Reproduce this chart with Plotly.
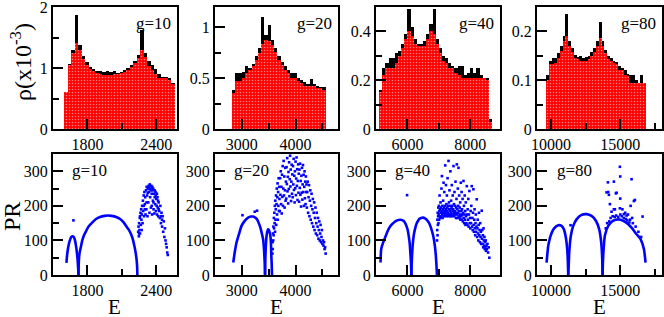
import plotly.graph_objects as go

FONT = "Liberation Serif"
BLUE = "#0000ff"

# ---------------- top row: density of states histograms ----------------
g10_hist_E = [1615, 1645, 1675, 1705, 1735, 1765, 1795, 1825, 1855, 1885, 1915, 1945, 1975, 2005, 2035, 2065,
              2095, 2125, 2155, 2185, 2215, 2245, 2275, 2305, 2335, 2365, 2395, 2425, 2455, 2485, 2515, 2545]
g10_hist_red = [0.6, 1.05, 1.25, 1.41, 1.3, 1.15, 1.05, 0.98, 0.95, 0.92, 0.9, 0.89, 0.89, 0.89, 0.9, 0.9,
                0.91, 0.93, 0.96, 1.02, 1.08, 1.17, 1.3, 1.18, 1.03, 0.96, 0.9, 0.84, 0.84, 0.84, 0.8, 0.73]
g10_hist_black = [0.6, 1.07, 1.3, 1.87, 1.38, 1.2, 1.1, 1.02, 0.98, 0.95, 0.95, 0.93, 0.95, 0.93, 0.95, 0.92,
                  0.93, 0.97, 1.0, 1.05, 1.12, 1.22, 1.63, 1.25, 1.12, 1.05, 0.98, 0.9, 0.85, 0.85, 0.84, 0.75]

g20_hist_E = [2850, 2910, 2970, 3030, 3090, 3150, 3210, 3270, 3330, 3390, 3450, 3510, 3570, 3630, 3690,
              3750, 3810, 3870, 3930, 3990, 4050, 4110, 4170, 4230, 4290, 4350, 4410, 4470, 4530]
g20_hist_red = [0.35, 0.47, 0.47, 0.5, 0.55, 0.58, 0.62, 0.68, 0.75, 0.84, 0.88, 0.87, 0.83, 0.76, 0.68,
                0.63, 0.58, 0.55, 0.5, 0.5, 0.47, 0.45, 0.42, 0.42, 0.42, 0.42, 0.4, 0.4, 0.38]
g20_hist_black = [0.38, 0.55, 0.55, 0.56, 0.62, 0.6, 0.64, 0.72, 0.8, 1.1, 0.92, 1.02, 0.88, 0.8, 0.72,
                  0.66, 0.62, 0.58, 0.55, 0.55, 0.5, 0.48, 0.46, 0.44, 0.49, 0.44, 0.42, 0.41, 0.41]

g40_hist_E = [5150, 5250, 5350, 5450, 5550, 5650, 5750, 5850, 5950, 6050, 6150, 6250, 6350, 6450, 6550, 6650,
              6750, 6850, 6950, 7050, 7150, 7250, 7350, 7450, 7550, 7650, 7750, 7850, 7950, 8050, 8150, 8250,
              8350, 8450, 8550, 8650]
g40_hist_red = [0.15, 0.22, 0.25, 0.25, 0.25, 0.27, 0.3, 0.33, 0.37, 0.4, 0.38, 0.35, 0.34, 0.34, 0.34, 0.37,
                0.4, 0.39, 0.35, 0.31, 0.28, 0.27, 0.25, 0.25, 0.23, 0.22, 0.21, 0.21, 0.21, 0.21, 0.21, 0.21,
                0.21, 0.21, 0.2, 0.03]
g40_hist_black = [0.16, 0.25, 0.27, 0.29, 0.29, 0.31, 0.32, 0.35, 0.39, 0.49, 0.42, 0.37, 0.35, 0.35, 0.36, 0.39,
                  0.43, 0.49, 0.37, 0.33, 0.3, 0.29, 0.27, 0.26, 0.25, 0.26, 0.26, 0.22, 0.23, 0.25, 0.23, 0.25,
                  0.22, 0.21, 0.21, 0.04]

g80_hist_E = [9750, 9950, 10150, 10350, 10550, 10750, 10950, 11150, 11350, 11550, 11750, 11950, 12150, 12350,
              12550, 12750, 12950, 13150, 13350, 13550, 13750, 13950, 14150, 14350, 14550, 14750, 14950, 15150,
              15350, 15550, 15750, 15950, 16150, 16350, 16550, 16750]
g80_hist_red = [0.1, 0.133, 0.133, 0.135, 0.146, 0.16, 0.18, 0.19, 0.17, 0.157, 0.145, 0.143, 0.14, 0.14,
                0.14, 0.143, 0.15, 0.158, 0.17, 0.186, 0.17, 0.155, 0.143, 0.14, 0.135, 0.133, 0.12, 0.12,
                0.11, 0.109, 0.095, 0.095, 0.095, 0.095, 0.095, 0.095]
g80_hist_black = [0.11, 0.14, 0.145, 0.145, 0.155, 0.17, 0.19, 0.236, 0.18, 0.165, 0.152, 0.148, 0.15, 0.145,
                  0.148, 0.15, 0.158, 0.165, 0.18, 0.219, 0.18, 0.162, 0.15, 0.145, 0.14, 0.138, 0.13, 0.125,
                  0.12, 0.112, 0.11, 0.11, 0.1, 0.095, 0.11, 0.095]

# ---------------- bottom row: participation ratio ----------------
g10_arc1_E = [1617, 1622, 1630, 1640, 1650, 1660, 1670, 1680, 1690, 1700, 1708, 1714, 1718, 1721, 1722]
g10_arc1_PR = [35, 55, 75, 92, 103, 110, 112, 110, 102, 85, 65, 45, 25, 8, 0]
g10_arc2_E = [1722, 1724, 1727, 1732, 1742, 1755, 1770, 1785, 1810, 1843, 1875, 1910, 1950, 1980, 2010, 2050,
              2085, 2115, 2140, 2162, 2180, 2195, 2206, 2216, 2224, 2230, 2233, 2235]
g10_arc2_PR = [0, 30, 50, 65, 80, 100, 115, 125, 140, 152, 162, 168, 171, 172, 171, 168,
               162, 152, 140, 130, 118, 104, 88, 72, 55, 38, 22, 0]
g10_out_E = [1678]
g10_out_PR = [158]
g10_cloud_E = [2242, 2245, 2248, 2250, 2253, 2256, 2258, 2262, 2265, 2268, 2270, 2273, 2276, 2280, 2283, 2286,
               2290, 2293, 2296, 2300, 2303, 2306, 2310, 2313, 2316, 2320, 2323, 2326, 2330, 2333, 2336, 2340,
               2343, 2346, 2350, 2353, 2356, 2360, 2363, 2366, 2370, 2373, 2376, 2380, 2383, 2386, 2390, 2393,
               2396, 2400, 2403, 2406, 2410, 2413, 2416, 2420, 2425, 2430, 2435, 2440, 2445, 2450, 2455, 2460,
               2465, 2470, 2475, 2480, 2485, 2490, 2495, 2500,
               2335, 2345, 2355, 2365, 2325, 2385, 2395, 2300, 2290, 2315, 2360, 2375, 2405, 2415, 2420, 2450,
               2440, 2258, 2250, 2272]
g10_cloud_PR = [125, 140, 112, 150, 130, 165, 120, 180, 145, 190, 160, 175, 200, 150, 215, 185,
                230, 170, 240, 205, 225, 175, 245, 190, 255, 230, 170, 250, 210, 258, 240, 180,
                262, 225, 250, 195, 258, 235, 175, 245, 215, 250, 190, 235, 178, 225, 205, 240,
                185, 220, 200, 175, 225, 195, 170, 210, 185, 165, 200, 150, 180, 140, 170, 125,
                155, 110, 135, 100, 90, 80, 65, 58,
                252, 248, 245, 255, 238, 245, 230, 190, 200, 210, 200, 210, 235, 215, 190, 160,
                170, 170, 120, 130]

g20_arc1_E = [2840, 2870, 2901, 2950, 2994, 3050, 3117, 3170, 3209, 3250, 3283, 3315, 3345, 3372, 3395,
              3410, 3419, 3427, 3432]
g20_arc1_PR = [36, 68, 94, 120, 142, 156, 166, 169, 169, 166, 161, 150, 137, 120, 104, 80, 56, 30, 0]
g20_arc2_E = [3432, 3437, 3444, 3455, 3469, 3485, 3500, 3515, 3531, 3542, 3549, 3556, 3561]
g20_arc2_PR = [0, 45, 75, 105, 123, 132, 131, 125, 113, 90, 56, 30, 0]
g20_out_E = [3012, 3240, 3283]
g20_out_PR = [173, 183, 186]
g20_cloud_E = [3568, 3572, 3575, 3580, 3584, 3588, 3592, 3596, 3600, 3605, 3610, 3614, 3618, 3622, 3627, 3631,
               3636, 3640, 3645, 3650, 3655, 3660, 3665, 3670, 3675, 3680, 3685, 3690, 3695, 3700,
               3706, 3712, 3718, 3724, 3730, 3736, 3742, 3748, 3754, 3760, 3766, 3772, 3778, 3784, 3790, 3796,
               3802, 3808, 3814, 3820,
               3826, 3832, 3838, 3844, 3850, 3856, 3862, 3868, 3874, 3880, 3886, 3892, 3898, 3904, 3910, 3916,
               3922, 3928, 3934, 3940,
               3946, 3952, 3958, 3964, 3970, 3976, 3982, 3988, 3994, 4000, 4006, 4012, 4018, 4024, 4030, 4036,
               4042, 4048, 4054, 4060,
               4066, 4072, 4078, 4084, 4090, 4096, 4102, 4108, 4114, 4120, 4126, 4132, 4138, 4144, 4150, 4156,
               4162, 4168, 4174, 4180,
               4186, 4192, 4198, 4204,
               4210, 4218, 4226, 4234, 4242, 4250, 4258, 4266, 4274, 4282, 4290, 4298, 4306, 4314, 4322, 4330,
               4338, 4346, 4354, 4362, 4370, 4378, 4386, 4394, 4402, 4410, 4418, 4426, 4434, 4442, 4450, 4458,
               4466, 4474, 4482, 4490, 4500, 4510, 4520, 4530, 4540, 4550, 4560]
g20_cloud_PR = [62, 95, 75, 120, 100, 140, 115, 165, 135, 180, 150, 200, 125, 215, 160, 190,
                230, 145, 205, 250, 175, 225, 265, 160, 240, 200, 280, 185, 255, 220,
                185, 280, 232, 300, 205, 255, 178, 290, 226, 315, 200, 250, 330, 230, 285, 195,
                245, 310, 215, 270,
                221, 312, 263, 338, 242, 284, 207, 298, 249, 326, 228, 277, 345, 256, 305, 214,
                270, 319, 235, 291,
                225, 315, 262, 336, 246, 287, 210, 300, 251, 328, 231, 279, 340, 258, 306, 217,
                272, 320, 238, 293,
                212, 305, 252, 322, 232, 272, 198, 287, 238, 310, 218, 262, 318, 240, 290, 200,
                255, 300, 222, 270,
                205, 285, 240, 262,
                195, 240, 270, 180, 225, 260, 170, 215, 245, 160, 200, 235, 150, 190, 220, 140,
                180, 210, 130, 165, 195, 120, 150, 180, 115, 140, 165, 105, 130, 155, 100, 120,
                145, 95, 110, 130, 90, 100, 85, 95, 75, 80, 62]

g40_arc1_E = [5144, 5166, 5220, 5271, 5376, 5450, 5514, 5600, 5672, 5778, 5884, 5930, 5968, 6010, 6042,
              6075, 6095, 6115, 6127]
g40_arc1_PR = [36, 75, 92, 104, 128, 140, 147, 154, 158, 160, 156, 150, 142, 130, 113, 90, 63, 35, 0]
g40_arc2_E = [6127, 6135, 6148, 6170, 6201, 6240, 6285, 6340, 6391, 6440, 6497, 6560, 6624, 6680, 6729,
              6780, 6835, 6870, 6898, 6920, 6941]
g40_arc2_PR = [0, 30, 56, 88, 114, 132, 147, 157, 163, 165, 166, 164, 159, 152, 142, 128, 108, 88, 65, 38, 0]
g40_out_E = [5990]
g40_out_PR = [231]
g40_cloud_E = [6945, 6950, 6955, 6960, 6965, 6970, 6978, 6985, 6990, 6998, 7005, 7010, 7018, 7025, 7032, 7040,
               7048, 7055, 7062, 7070, 7078, 7085, 7092, 7100, 7108, 7115, 7122, 7130, 7138, 7145, 7152, 7160,
               7168, 7175, 7182, 7190, 7198, 7205, 7212, 7220, 7228, 7235, 7242, 7250, 7258, 7265, 7272, 7280,
               7288, 7295, 7302, 7310, 7318, 7325, 7332, 7340, 7348, 7355, 7362, 7370, 7378, 7385, 7392, 7400,
               7408, 7415, 7422, 7430, 7438, 7445, 7452, 7460, 7469, 7476, 7484, 7492, 7500, 7508, 7516, 7524,
               7532, 7540, 7548, 7556, 7564, 7575, 7582, 7590, 7598, 7606, 7614, 7620, 7627, 7635, 7643, 7650,
               7658, 7666, 7674, 7682, 7690, 7702, 7710, 7718, 7726, 7734, 7742, 7750, 7758, 7766, 7775, 7786,
               7794, 7802, 7810, 7818, 7826, 7834, 7842, 7850, 7860, 7870, 7880, 7892, 7900, 7910, 7920, 7930,
               7940, 7950, 7960, 7975, 7985, 7995, 8005, 8015, 8025, 8035, 8050, 8060, 8070, 8080, 8090, 8103,
               8110, 8120, 8130, 8140, 8150, 8160, 8170, 8180, 8190, 8200, 8209, 8220, 8230, 8240, 8250, 8260,
               8270, 8280, 8290, 8300, 8310, 8320, 8330, 8340, 8350, 8368, 8375, 8385, 8395, 8405, 8415, 8425,
               8435, 8445, 8455, 8465, 8475, 8485, 8495, 8505, 8520, 8535, 8550, 8570, 8590, 8610]
g40_cloud_PR = [100, 130, 160, 115, 180, 145, 170, 195, 150, 175, 200, 160, 185, 230, 170, 190,
                165, 210, 180, 195, 170, 250, 185, 286, 175, 200, 165, 190, 215, 180, 267, 170,
                195, 240, 185, 175, 200, 317, 180, 190, 260, 170, 205, 185, 230, 175, 195, 280,
                180, 200, 170, 330, 190, 210, 175, 245, 185, 200, 170, 300, 190, 180, 215, 175,
                195, 260, 170, 200, 185, 230, 175, 190, 315, 180, 205, 170, 240, 185, 175, 200,
                270, 180, 165, 195, 220, 320, 175, 190, 165, 250, 180, 200, 310, 170, 185, 230,
                165, 195, 175, 210, 160, 267, 185, 170, 240, 160, 190, 175, 220, 155, 180, 272,
                165, 200, 150, 175, 230, 160, 185, 145, 210, 170, 150, 257, 175, 145, 190, 160,
                220, 140, 175, 243, 150, 165, 135, 185, 150, 200, 257, 140, 165, 130, 180, 248,
                145, 125, 160, 190, 135, 115, 150, 175, 125, 140, 219, 110, 135, 160, 120, 100,
                145, 180, 115, 130, 95, 150, 110, 125, 90, 186, 105, 130, 90, 115, 80, 135,
                100, 85, 110, 75, 95, 80, 100, 70, 85, 75, 90, 65, 80, 50]

g80_arc1_E = [9690, 9808, 9890, 9976, 10216, 10528, 10768, 10936, 11080, 11176, 11220, 11248]
g80_arc1_PR = [36, 84, 100, 113, 134, 144, 142, 132, 108, 75, 40, 0]
g80_arc2_E = [11248, 11290, 11320, 11440, 11608, 11848, 12208, 12568, 12928, 13240, 13480, 13624, 13696, 13720]
g80_arc2_PR = [0, 35, 65, 114, 142, 161, 174, 176, 171, 157, 132, 94, 46, 0]
g80_arc3_E = [13720, 13740, 13768, 13888, 14128, 14488, 14848, 15208, 15568, 15808, 16168, 16456, 16696, 16816]
g80_arc3_PR = [0, 30, 56, 114, 142, 157, 161, 157, 147, 137, 118, 104, 75, 36]
g80_out_E = [11416]
g80_out_PR = [144]
g80_cloud_E = [14968, 14992, 15808, 14536, 14128, 14176, 14728, 14992, 15976, 14536, 14368, 16600,
               14008, 14104, 14680, 14250, 14608, 15740, 16048, 15256, 15450, 14968,
               14300, 14450, 14600, 14700, 14850, 15000, 15100, 15250, 15400, 15500, 15650, 15700,
               15900, 16100, 14200, 14050, 13950, 15150, 15350, 15550, 15850, 16300, 16500]
g80_cloud_PR = [313, 285, 277, 270, 240, 232, 238, 221, 214, 190, 183, 169,
                239, 268, 236, 205, 190, 200, 217, 176, 172, 193,
                165, 170, 168, 172, 168, 175, 170, 165, 162, 158, 152, 160,
                150, 140, 155, 150, 135, 190, 180, 175, 165, 125, 110]

g_labels = ["g=10", "g=20", "g=40", "g=80"]
top_ytick_vals = [[0, 1, 2], [0, 0.5, 1], [0, 0.2, 0.4], [0, 0.1, 0.2]]
top_ytick_text = [["0", "1", "2"], ["0", "0.5", "1"], ["0", "0.2", "0.4"], ["0", "0.1", "0.2"]]

panels = [
    dict(hE=g10_hist_E, hr=g10_hist_red, hb=g10_hist_black, bw=30,
         xr=[1500, 2580], xd=600, x0=1800, xm=300, yr=[0, 2], ym=0.5,
         arcs=[(g10_arc1_E, g10_arc1_PR), (g10_arc2_E, g10_arc2_PR)],
         pts=[(g10_out_E, g10_out_PR), (g10_cloud_E, g10_cloud_PR)]),
    dict(hE=g20_hist_E, hr=g20_hist_red, hb=g20_hist_black, bw=60,
         xr=[2500, 4790], xd=1000, x0=3000, xm=500, yr=[0, 1.2], ym=0.25,
         arcs=[(g20_arc1_E, g20_arc1_PR), (g20_arc2_E, g20_arc2_PR)],
         pts=[(g20_out_E, g20_out_PR), (g20_cloud_E, g20_cloud_PR)]),
    dict(hE=g40_hist_E, hr=g40_hist_red, hb=g40_hist_black, bw=100,
         xr=[5000, 8950], xd=2000, x0=6000, xm=1000, yr=[0, 0.5], ym=0.1,
         arcs=[(g40_arc1_E, g40_arc1_PR), (g40_arc2_E, g40_arc2_PR)],
         pts=[(g40_out_E, g40_out_PR), (g40_cloud_E, g40_cloud_PR)]),
    dict(hE=g80_hist_E, hr=g80_hist_red, hb=g80_hist_black, bw=200,
         xr=[9000, 18000], xd=5000, x0=10000, xm=2500, yr=[0, 0.25], ym=0.05,
         arcs=[(g80_arc1_E, g80_arc1_PR), (g80_arc2_E, g80_arc2_PR), (g80_arc3_E, g80_arc3_PR)],
         pts=[(g80_out_E, g80_out_PR), (g80_cloud_E, g80_cloud_PR)]),
]

W, H = 664, 317
xpix = [(53, 177), (215, 338), (376, 500), (537, 662)]
top_dom = [1 - 129 / H, 1 - 7 / H]
bot_dom = [1 - 275 / H, 1 - 154 / H]

fig = go.Figure()
layout = {}
annotations = []

axis_common = dict(showline=True, linewidth=2, linecolor="black", mirror=True,
                   ticks="inside", ticklen=10, tickwidth=1.5, tickcolor="black",
                   showgrid=False, zeroline=False, ticklabeloverflow="allow", automargin=False,
                   tickfont=dict(family=FONT, size=16, color="black"))

for i, p in enumerate(panels):
    ti = i + 1          # top axes index
    bi = i + 5          # bottom axes index
    xdom = [xpix[i][0] / W, xpix[i][1] / W]
    tx = "x" if ti == 1 else f"x{ti}"
    ty = "y" if ti == 1 else f"y{ti}"
    bx, by = f"x{bi}", f"y{bi}"

    # histograms
    fig.add_trace(go.Bar(x=p["hE"], y=p["hb"], width=p["bw"], xaxis=tx, yaxis=ty,
                         marker=dict(color="black", line=dict(width=0)), opacity=1, showlegend=False))
    fig.add_trace(go.Bar(x=p["hE"], y=p["hr"], width=p["bw"], xaxis=tx, yaxis=ty,
                         marker=dict(color="red", line=dict(width=0),
                                     pattern=dict(shape=".", fgcolor="white", bgcolor="#ff0000",
                                                  size=3, solidity=0.22)),
                         opacity=1, showlegend=False))

    # PR arcs
    for aE, aP in p["arcs"]:
        fig.add_trace(go.Scatter(x=aE, y=aP, mode="lines", xaxis=bx, yaxis=by,
                                 line=dict(color=BLUE, width=2.6, shape="spline", smoothing=0.6),
                                 showlegend=False))
    for sE, sP in p["pts"]:
        fig.add_trace(go.Scatter(x=sE, y=sP, mode="markers", xaxis=bx, yaxis=by,
                                 marker=dict(color=BLUE, size=2.6, symbol="square", line=dict(width=0)),
                                 showlegend=False, cliponaxis=True))

    xa = dict(axis_common, domain=xdom, range=p["xr"], tickmode="linear", tick0=p["x0"], dtick=p["xd"],
              tickformat="d",
              minor=dict(ticks="inside", ticklen=6, tickwidth=1.5, tickcolor="black",
                         tick0=p["x0"], dtick=p["xm"], showgrid=False))
    layout["xaxis" if ti == 1 else f"xaxis{ti}"] = dict(xa, anchor=ty)
    layout[f"xaxis{bi}"] = dict(xa, anchor=by)
    layout["yaxis" if ti == 1 else f"yaxis{ti}"] = dict(
        axis_common, domain=top_dom, range=p["yr"], tickmode="array",
        tickvals=top_ytick_vals[i], ticktext=top_ytick_text[i],
        anchor=tx, minor=dict(ticks="inside", ticklen=6, tickwidth=1.5, tickcolor="black",
                              tick0=0, dtick=p["ym"], showgrid=False))
    layout[f"yaxis{bi}"] = dict(
        axis_common, domain=bot_dom, range=[0, 350], tickmode="linear", tick0=0, dtick=100,
        anchor=bx, minor=dict(ticks="inside", ticklen=6, tickwidth=1.5, tickcolor="black",
                              tick0=0, dtick=50, showgrid=False))

    # g labels
    annotations.append(dict(text=g_labels[i], xref=f"{tx} domain", yref=f"{ty} domain",
                            x=0.97, y=0.96, xanchor="right", yanchor="top", showarrow=False,
                            font=dict(family=FONT, size=17, color="black")))
    annotations.append(dict(text=g_labels[i], xref=f"{bx} domain", yref=f"{by} domain",
                            x=0.14, y=0.96, xanchor="left", yanchor="top", showarrow=False,
                            font=dict(family=FONT, size=17, color="black")))
    # E label
    annotations.append(dict(text="E", xref="paper", yref="paper",
                            x=(xpix[i][0] + xpix[i][1]) / 2 / W, y=1 - 306.5 / H,
                            xanchor="center", yanchor="middle", showarrow=False,
                            font=dict(family=FONT, size=21, color="black")))

annotations.append(dict(text="ρ(x10<sup>-3</sup>)", xref="paper", yref="paper", x=21 / W, y=1 - 62 / H,
                        xanchor="center", yanchor="middle", textangle=-90, showarrow=False,
                        font=dict(family=FONT, size=24, color="black")))
annotations.append(dict(text="PR", xref="paper", yref="paper", x=12 / W, y=1 - 217 / H,
                        xanchor="center", yanchor="middle", textangle=-90, showarrow=False,
                        font=dict(family=FONT, size=24, color="black")))

fig.update_layout(**layout)
fig.update_layout(width=W, height=H, margin=dict(l=0, r=0, t=0, b=0),
                  paper_bgcolor="white", plot_bgcolor="white", barmode="overlay", bargap=0,
                  annotations=annotations, font=dict(family=FONT, color="black"), showlegend=False)

fig.write_html("out.html", config={"displayModeBar": False},
               post_script="document.body.style.margin='0';document.body.style.overflow='hidden';")
